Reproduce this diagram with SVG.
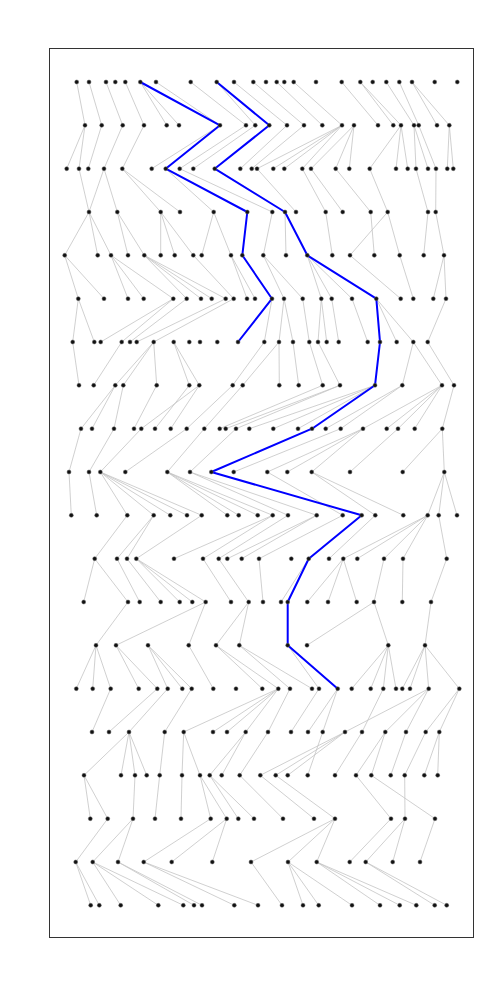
<svg xmlns="http://www.w3.org/2000/svg" width="500" height="1000" viewBox="0 0 500 1000">
<style>
.e line{stroke:#c4c4c4;stroke-width:0.8}
.p{fill:none;stroke:#0000ff;stroke-width:2;stroke-linejoin:round}
.n circle{fill:#111;stroke:#666;stroke-width:0.5}
</style>
<rect x="0" y="0" width="500" height="1000" fill="#fff"/>
<rect x="49.5" y="48.5" width="424" height="889" fill="#fff" stroke="#333" stroke-width="1"/>
<g id="connectors">
<g class="e">
<line x1="76.7" y1="82" x2="85" y2="125.3"/><line x1="89" y1="82" x2="101.7" y2="125.3"/><line x1="106" y1="82" x2="122.7" y2="125.3"/><line x1="125.3" y1="82" x2="144" y2="125.3"/><line x1="140.3" y1="82" x2="166.7" y2="125.3"/><line x1="140.3" y1="82" x2="179" y2="125.3"/><line x1="156" y1="82" x2="220" y2="125.3"/><line x1="190.7" y1="82" x2="246" y2="125.3"/><line x1="216.7" y1="82" x2="255.3" y2="125.3"/><line x1="234" y1="82" x2="287" y2="125.3"/><line x1="253.3" y1="82" x2="304" y2="125.3"/><line x1="276.7" y1="82" x2="322.3" y2="125.3"/><line x1="293.7" y1="82" x2="342" y2="125.3"/><line x1="341.7" y1="82" x2="378" y2="125.3"/><line x1="360.3" y1="82" x2="393.3" y2="125.3"/><line x1="360.3" y1="82" x2="401" y2="125.3"/><line x1="386.3" y1="82" x2="414" y2="125.3"/><line x1="399.3" y1="82" x2="418.7" y2="125.3"/><line x1="412" y1="82" x2="437" y2="125.3"/><line x1="412" y1="82" x2="449.3" y2="125.3"/>
<line x1="85" y1="125.3" x2="66.7" y2="168.7"/><line x1="85" y1="125.3" x2="79" y2="168.7"/><line x1="101.7" y1="125.3" x2="88.3" y2="168.7"/><line x1="122.7" y1="125.3" x2="104" y2="168.7"/><line x1="144" y1="125.3" x2="122.3" y2="168.7"/><line x1="220" y1="125.3" x2="151.7" y2="168.7"/><line x1="246" y1="125.3" x2="179.7" y2="168.7"/><line x1="255.3" y1="125.3" x2="193.3" y2="168.7"/><line x1="287" y1="125.3" x2="240.3" y2="168.7"/><line x1="304" y1="125.3" x2="251.7" y2="168.7"/><line x1="342" y1="125.3" x2="257" y2="168.7"/><line x1="342" y1="125.3" x2="273.3" y2="168.7"/><line x1="342" y1="125.3" x2="284.3" y2="168.7"/><line x1="342" y1="125.3" x2="302.3" y2="168.7"/><line x1="354" y1="125.3" x2="311" y2="168.7"/><line x1="354" y1="125.3" x2="335.7" y2="168.7"/><line x1="354" y1="125.3" x2="349.3" y2="168.7"/><line x1="401" y1="125.3" x2="369.7" y2="168.7"/><line x1="401" y1="125.3" x2="396" y2="168.7"/><line x1="401" y1="125.3" x2="407.7" y2="168.7"/><line x1="414" y1="125.3" x2="416" y2="168.7"/><line x1="414" y1="125.3" x2="428" y2="168.7"/><line x1="418.7" y1="125.3" x2="436" y2="168.7"/><line x1="449.3" y1="125.3" x2="447.3" y2="168.7"/><line x1="449.3" y1="125.3" x2="453.3" y2="168.7"/>
<line x1="79" y1="168.7" x2="89" y2="212"/><line x1="104" y1="168.7" x2="89" y2="212"/><line x1="104" y1="168.7" x2="117.3" y2="212"/><line x1="122.3" y1="168.7" x2="160.7" y2="212"/><line x1="122.3" y1="168.7" x2="180" y2="212"/><line x1="165.7" y1="168.7" x2="213.7" y2="212"/><line x1="179.7" y1="168.7" x2="272.3" y2="212"/><line x1="257" y1="168.7" x2="296" y2="212"/><line x1="302.3" y1="168.7" x2="325.7" y2="212"/><line x1="311" y1="168.7" x2="342.7" y2="212"/><line x1="335.7" y1="168.7" x2="370.7" y2="212"/><line x1="369.7" y1="168.7" x2="387.7" y2="212"/><line x1="416" y1="168.7" x2="428" y2="212"/><line x1="436" y1="168.7" x2="435.7" y2="212"/>
<line x1="89" y1="212" x2="64.7" y2="255.3"/><line x1="89" y1="212" x2="97.7" y2="255.3"/><line x1="89" y1="212" x2="111" y2="255.3"/><line x1="117.3" y1="212" x2="128" y2="255.3"/><line x1="117.3" y1="212" x2="144.3" y2="255.3"/><line x1="160.7" y1="212" x2="160.7" y2="255.3"/><line x1="160.7" y1="212" x2="174.7" y2="255.3"/><line x1="160.7" y1="212" x2="193.3" y2="255.3"/><line x1="213.7" y1="212" x2="201.7" y2="255.3"/><line x1="213.7" y1="212" x2="231" y2="255.3"/><line x1="272.3" y1="212" x2="263.3" y2="255.3"/><line x1="285" y1="212" x2="286" y2="255.3"/><line x1="325.7" y1="212" x2="332.3" y2="255.3"/><line x1="370.7" y1="212" x2="374.3" y2="255.3"/><line x1="387.7" y1="212" x2="350" y2="255.3"/><line x1="387.7" y1="212" x2="399.7" y2="255.3"/><line x1="428" y1="212" x2="423.7" y2="255.3"/><line x1="435.7" y1="212" x2="444" y2="255.3"/>
<line x1="64.7" y1="255.3" x2="78.3" y2="298.7"/><line x1="64.7" y1="255.3" x2="104" y2="298.7"/><line x1="111" y1="255.3" x2="128" y2="298.7"/><line x1="111" y1="255.3" x2="143.7" y2="298.7"/><line x1="111" y1="255.3" x2="173.3" y2="298.7"/><line x1="144.3" y1="255.3" x2="186.7" y2="298.7"/><line x1="144.3" y1="255.3" x2="201" y2="298.7"/><line x1="144.3" y1="255.3" x2="211.7" y2="298.7"/><line x1="144.3" y1="255.3" x2="225.7" y2="298.7"/><line x1="193.3" y1="255.3" x2="233.7" y2="298.7"/><line x1="231" y1="255.3" x2="247" y2="298.7"/><line x1="231" y1="255.3" x2="255" y2="298.7"/><line x1="263.3" y1="255.3" x2="284" y2="298.7"/><line x1="263.3" y1="255.3" x2="302.7" y2="298.7"/><line x1="307.3" y1="255.3" x2="321.3" y2="298.7"/><line x1="307.3" y1="255.3" x2="331.7" y2="298.7"/><line x1="307.3" y1="255.3" x2="352" y2="298.7"/><line x1="350" y1="255.3" x2="400.7" y2="298.7"/><line x1="399.7" y1="255.3" x2="413.3" y2="298.7"/><line x1="444" y1="255.3" x2="433.3" y2="298.7"/><line x1="444" y1="255.3" x2="446" y2="298.7"/>
<line x1="78.3" y1="298.7" x2="72.7" y2="342"/><line x1="78.3" y1="298.7" x2="94.3" y2="342"/><line x1="173.3" y1="298.7" x2="100.7" y2="342"/><line x1="173.3" y1="298.7" x2="121.7" y2="342"/><line x1="186.7" y1="298.7" x2="130" y2="342"/><line x1="225.7" y1="298.7" x2="136.7" y2="342"/><line x1="233.7" y1="298.7" x2="153.7" y2="342"/><line x1="272" y1="298.7" x2="264.3" y2="342"/><line x1="284" y1="298.7" x2="279" y2="342"/><line x1="284" y1="298.7" x2="293" y2="342"/><line x1="302.7" y1="298.7" x2="309.3" y2="342"/><line x1="321.3" y1="298.7" x2="318" y2="342"/><line x1="321.3" y1="298.7" x2="326.7" y2="342"/><line x1="331.7" y1="298.7" x2="338.7" y2="342"/><line x1="352" y1="298.7" x2="367.7" y2="342"/><line x1="376.3" y1="298.7" x2="396.7" y2="342"/><line x1="376.3" y1="298.7" x2="413.3" y2="342"/><line x1="446" y1="298.7" x2="427.7" y2="342"/>
<line x1="72.7" y1="342" x2="79" y2="385.3"/><line x1="121.7" y1="342" x2="93.7" y2="385.3"/><line x1="153.7" y1="342" x2="115.3" y2="385.3"/><line x1="153.7" y1="342" x2="123.3" y2="385.3"/><line x1="153.7" y1="342" x2="156.7" y2="385.3"/><line x1="173.7" y1="342" x2="189.3" y2="385.3"/><line x1="173.7" y1="342" x2="199.3" y2="385.3"/><line x1="264.3" y1="342" x2="232.7" y2="385.3"/><line x1="279" y1="342" x2="242.7" y2="385.3"/><line x1="279" y1="342" x2="279.3" y2="385.3"/><line x1="293" y1="342" x2="298.7" y2="385.3"/><line x1="309.3" y1="342" x2="322.7" y2="385.3"/><line x1="318" y1="342" x2="340" y2="385.3"/><line x1="413.3" y1="342" x2="402.3" y2="385.3"/><line x1="413.3" y1="342" x2="442" y2="385.3"/><line x1="427.7" y1="342" x2="454" y2="385.3"/>
<line x1="115.3" y1="385.3" x2="81" y2="428.7"/><line x1="115.3" y1="385.3" x2="92" y2="428.7"/><line x1="123.3" y1="385.3" x2="114" y2="428.7"/><line x1="156.7" y1="385.3" x2="134" y2="428.7"/><line x1="199.3" y1="385.3" x2="141.3" y2="428.7"/><line x1="189.3" y1="385.3" x2="155" y2="428.7"/><line x1="199.3" y1="385.3" x2="170.7" y2="428.7"/><line x1="232.7" y1="385.3" x2="186.7" y2="428.7"/><line x1="242.7" y1="385.3" x2="204.3" y2="428.7"/><line x1="322.7" y1="385.3" x2="219.7" y2="428.7"/><line x1="340" y1="385.3" x2="225.7" y2="428.7"/><line x1="340" y1="385.3" x2="236" y2="428.7"/><line x1="375" y1="385.3" x2="249.3" y2="428.7"/><line x1="375" y1="385.3" x2="273.3" y2="428.7"/><line x1="375" y1="385.3" x2="298" y2="428.7"/><line x1="402.3" y1="385.3" x2="325.7" y2="428.7"/><line x1="402.3" y1="385.3" x2="340.7" y2="428.7"/><line x1="442" y1="385.3" x2="363" y2="428.7"/><line x1="442" y1="385.3" x2="386.7" y2="428.7"/><line x1="442" y1="385.3" x2="398" y2="428.7"/><line x1="442" y1="385.3" x2="414.7" y2="428.7"/><line x1="454" y1="385.3" x2="442.3" y2="428.7"/>
<line x1="81" y1="428.7" x2="69" y2="472"/><line x1="114" y1="428.7" x2="89" y2="472"/><line x1="141.3" y1="428.7" x2="100.3" y2="472"/><line x1="186.7" y1="428.7" x2="125.3" y2="472"/><line x1="204.3" y1="428.7" x2="167.3" y2="472"/><line x1="236" y1="428.7" x2="190" y2="472"/><line x1="340.7" y1="428.7" x2="233.7" y2="472"/><line x1="363" y1="428.7" x2="267.3" y2="472"/><line x1="363" y1="428.7" x2="287.3" y2="472"/><line x1="363" y1="428.7" x2="311.7" y2="472"/><line x1="398" y1="428.7" x2="350" y2="472"/><line x1="442.3" y1="428.7" x2="402.7" y2="472"/><line x1="442.3" y1="428.7" x2="444.3" y2="472"/>
<line x1="69" y1="472" x2="71.3" y2="515.3"/><line x1="89" y1="472" x2="96.7" y2="515.3"/><line x1="100.3" y1="472" x2="127.3" y2="515.3"/><line x1="100.3" y1="472" x2="153.7" y2="515.3"/><line x1="100.3" y1="472" x2="170.3" y2="515.3"/><line x1="100.3" y1="472" x2="187" y2="515.3"/><line x1="100.3" y1="472" x2="201.7" y2="515.3"/><line x1="167.3" y1="472" x2="227.3" y2="515.3"/><line x1="167.3" y1="472" x2="238.7" y2="515.3"/><line x1="167.3" y1="472" x2="257.7" y2="515.3"/><line x1="167.3" y1="472" x2="272.7" y2="515.3"/><line x1="190" y1="472" x2="288" y2="515.3"/><line x1="190" y1="472" x2="316.7" y2="515.3"/><line x1="267.3" y1="472" x2="342.7" y2="515.3"/><line x1="311.7" y1="472" x2="375.3" y2="515.3"/><line x1="311.7" y1="472" x2="403.3" y2="515.3"/><line x1="444.3" y1="472" x2="427.7" y2="515.3"/><line x1="444.3" y1="472" x2="438.7" y2="515.3"/><line x1="444.3" y1="472" x2="457" y2="515.3"/>
<line x1="127.3" y1="515.3" x2="94.7" y2="558.7"/><line x1="153.7" y1="515.3" x2="117" y2="558.7"/><line x1="153.7" y1="515.3" x2="127" y2="558.7"/><line x1="201.7" y1="515.3" x2="136.3" y2="558.7"/><line x1="272.7" y1="515.3" x2="174" y2="558.7"/><line x1="272.7" y1="515.3" x2="203" y2="558.7"/><line x1="288" y1="515.3" x2="218.7" y2="558.7"/><line x1="316.7" y1="515.3" x2="227.3" y2="558.7"/><line x1="316.7" y1="515.3" x2="241.7" y2="558.7"/><line x1="342.7" y1="515.3" x2="259" y2="558.7"/><line x1="375.3" y1="515.3" x2="329" y2="558.7"/><line x1="427.7" y1="515.3" x2="343.3" y2="558.7"/><line x1="427.7" y1="515.3" x2="357.3" y2="558.7"/><line x1="427.7" y1="515.3" x2="384" y2="558.7"/><line x1="427.7" y1="515.3" x2="403" y2="558.7"/><line x1="438.7" y1="515.3" x2="446.7" y2="558.7"/>
<line x1="94.7" y1="558.7" x2="83.7" y2="602"/><line x1="94.7" y1="558.7" x2="128" y2="602"/><line x1="117" y1="558.7" x2="139.7" y2="602"/><line x1="127" y1="558.7" x2="160.7" y2="602"/><line x1="136.3" y1="558.7" x2="179.7" y2="602"/><line x1="136.3" y1="558.7" x2="192.3" y2="602"/><line x1="136.3" y1="558.7" x2="205.7" y2="602"/><line x1="203" y1="558.7" x2="231" y2="602"/><line x1="218.7" y1="558.7" x2="248.7" y2="602"/><line x1="259" y1="558.7" x2="263" y2="602"/><line x1="308.7" y1="558.7" x2="281" y2="602"/><line x1="343.3" y1="558.7" x2="307.3" y2="602"/><line x1="343.3" y1="558.7" x2="328" y2="602"/><line x1="343.3" y1="558.7" x2="356.7" y2="602"/><line x1="384" y1="558.7" x2="374" y2="602"/><line x1="403" y1="558.7" x2="402.3" y2="602"/><line x1="446.7" y1="558.7" x2="431" y2="602"/>
<line x1="128" y1="602" x2="96" y2="645.3"/><line x1="205.7" y1="602" x2="116" y2="645.3"/><line x1="205.7" y1="602" x2="188.7" y2="645.3"/><line x1="248.7" y1="602" x2="216" y2="645.3"/><line x1="248.7" y1="602" x2="239.3" y2="645.3"/><line x1="374" y1="602" x2="307" y2="645.3"/><line x1="374" y1="602" x2="388.3" y2="645.3"/><line x1="431" y1="602" x2="425" y2="645.3"/>
<line x1="96" y1="645.3" x2="76.3" y2="688.7"/><line x1="96" y1="645.3" x2="92.7" y2="688.7"/><line x1="96" y1="645.3" x2="110.7" y2="688.7"/><line x1="116" y1="645.3" x2="138.7" y2="688.7"/><line x1="116" y1="645.3" x2="157.3" y2="688.7"/><line x1="148" y1="645.3" x2="167.7" y2="688.7"/><line x1="148" y1="645.3" x2="182.3" y2="688.7"/><line x1="148" y1="645.3" x2="191.7" y2="688.7"/><line x1="188.7" y1="645.3" x2="213.3" y2="688.7"/><line x1="216" y1="645.3" x2="262.3" y2="688.7"/><line x1="216" y1="645.3" x2="278.3" y2="688.7"/><line x1="239.3" y1="645.3" x2="290" y2="688.7"/><line x1="239.3" y1="645.3" x2="312" y2="688.7"/><line x1="287.7" y1="645.3" x2="319" y2="688.7"/><line x1="388.3" y1="645.3" x2="351.7" y2="688.7"/><line x1="388.3" y1="645.3" x2="370.7" y2="688.7"/><line x1="388.3" y1="645.3" x2="383.3" y2="688.7"/><line x1="388.3" y1="645.3" x2="396" y2="688.7"/><line x1="425" y1="645.3" x2="402.3" y2="688.7"/><line x1="425" y1="645.3" x2="410" y2="688.7"/><line x1="425" y1="645.3" x2="428.7" y2="688.7"/><line x1="425" y1="645.3" x2="459.3" y2="688.7"/>
<line x1="110.7" y1="688.7" x2="92" y2="732"/><line x1="157.3" y1="688.7" x2="109" y2="732"/><line x1="167.7" y1="688.7" x2="129" y2="732"/><line x1="191.7" y1="688.7" x2="164.7" y2="732"/><line x1="278.3" y1="688.7" x2="183.7" y2="732"/><line x1="278.3" y1="688.7" x2="213" y2="732"/><line x1="278.3" y1="688.7" x2="227" y2="732"/><line x1="278.3" y1="688.7" x2="245.7" y2="732"/><line x1="290" y1="688.7" x2="268" y2="732"/><line x1="319" y1="688.7" x2="291" y2="732"/><line x1="337.7" y1="688.7" x2="308" y2="732"/><line x1="337.7" y1="688.7" x2="322.7" y2="732"/><line x1="428.7" y1="688.7" x2="345" y2="732"/><line x1="383.3" y1="688.7" x2="362" y2="732"/><line x1="428.7" y1="688.7" x2="385.3" y2="732"/><line x1="428.7" y1="688.7" x2="406" y2="732"/><line x1="459.3" y1="688.7" x2="425.7" y2="732"/><line x1="459.3" y1="688.7" x2="439.3" y2="732"/>
<line x1="129" y1="732" x2="84" y2="775.3"/><line x1="129" y1="732" x2="121" y2="775.3"/><line x1="129" y1="732" x2="135" y2="775.3"/><line x1="129" y1="732" x2="146.7" y2="775.3"/><line x1="164.7" y1="732" x2="159.7" y2="775.3"/><line x1="183.7" y1="732" x2="182" y2="775.3"/><line x1="183.7" y1="732" x2="200" y2="775.3"/><line x1="245.7" y1="732" x2="209.7" y2="775.3"/><line x1="245.7" y1="732" x2="221.7" y2="775.3"/><line x1="268" y1="732" x2="239.7" y2="775.3"/><line x1="345" y1="732" x2="260.3" y2="775.3"/><line x1="345" y1="732" x2="275.7" y2="775.3"/><line x1="345" y1="732" x2="287.7" y2="775.3"/><line x1="322.7" y1="732" x2="307.7" y2="775.3"/><line x1="362" y1="732" x2="335" y2="775.3"/><line x1="385.3" y1="732" x2="356" y2="775.3"/><line x1="385.3" y1="732" x2="371.3" y2="775.3"/><line x1="406" y1="732" x2="390.7" y2="775.3"/><line x1="425.7" y1="732" x2="404.7" y2="775.3"/><line x1="439.3" y1="732" x2="424.3" y2="775.3"/><line x1="439.3" y1="732" x2="437.7" y2="775.3"/>
<line x1="84" y1="775.3" x2="90.3" y2="818.7"/><line x1="84" y1="775.3" x2="107.7" y2="818.7"/><line x1="135" y1="775.3" x2="133" y2="818.7"/><line x1="159.7" y1="775.3" x2="155" y2="818.7"/><line x1="182" y1="775.3" x2="181" y2="818.7"/><line x1="200" y1="775.3" x2="210.7" y2="818.7"/><line x1="200" y1="775.3" x2="226.7" y2="818.7"/><line x1="209.7" y1="775.3" x2="238.3" y2="818.7"/><line x1="209.7" y1="775.3" x2="254" y2="818.7"/><line x1="239.7" y1="775.3" x2="283" y2="818.7"/><line x1="260.3" y1="775.3" x2="314" y2="818.7"/><line x1="275.7" y1="775.3" x2="335" y2="818.7"/><line x1="356" y1="775.3" x2="391" y2="818.7"/><line x1="371.3" y1="775.3" x2="435" y2="818.7"/><line x1="404.7" y1="775.3" x2="405" y2="818.7"/>
<line x1="107.7" y1="818.7" x2="75.7" y2="862"/><line x1="133" y1="818.7" x2="92.7" y2="862"/><line x1="133" y1="818.7" x2="118" y2="862"/><line x1="210.7" y1="818.7" x2="143.7" y2="862"/><line x1="226.7" y1="818.7" x2="171.7" y2="862"/><line x1="226.7" y1="818.7" x2="212.3" y2="862"/><line x1="335" y1="818.7" x2="251" y2="862"/><line x1="335" y1="818.7" x2="288" y2="862"/><line x1="335" y1="818.7" x2="316.7" y2="862"/><line x1="391" y1="818.7" x2="349.7" y2="862"/><line x1="405" y1="818.7" x2="365.7" y2="862"/><line x1="405" y1="818.7" x2="392.7" y2="862"/><line x1="435" y1="818.7" x2="420" y2="862"/>
<line x1="75.7" y1="862" x2="90.7" y2="905.3"/><line x1="75.7" y1="862" x2="99.3" y2="905.3"/><line x1="92.7" y1="862" x2="120.7" y2="905.3"/><line x1="92.7" y1="862" x2="158.3" y2="905.3"/><line x1="92.7" y1="862" x2="183.3" y2="905.3"/><line x1="118" y1="862" x2="194" y2="905.3"/><line x1="118" y1="862" x2="202" y2="905.3"/><line x1="143.7" y1="862" x2="234.3" y2="905.3"/><line x1="143.7" y1="862" x2="258" y2="905.3"/><line x1="251" y1="862" x2="282" y2="905.3"/><line x1="288" y1="862" x2="303" y2="905.3"/><line x1="288" y1="862" x2="318.7" y2="905.3"/><line x1="288" y1="862" x2="352" y2="905.3"/><line x1="316.7" y1="862" x2="380" y2="905.3"/><line x1="316.7" y1="862" x2="399.7" y2="905.3"/><line x1="316.7" y1="862" x2="416.3" y2="905.3"/><line x1="365.7" y1="862" x2="434.7" y2="905.3"/><line x1="365.7" y1="862" x2="446.7" y2="905.3"/>
</g>
<polyline id="pathA" class="p" points="140.3,82 220,125.3 165.7,168.7 247.3,212 242.3,255.3 272,298.7 238,342"/>
<polyline id="pathB" class="p" points="216.7,82 269.3,125.3 214.7,168.7 285,212 307.3,255.3 376.3,298.7 380,342 375,385.3 312,428.7 211.3,472 361.7,515.3 308.7,558.7 287.7,602 287.7,645.3 337.7,688.7"/>
</g>
<g class="n">
<g id="n1_1"><circle cx="76.7" cy="82" r="2"/></g><g id="n1_2"><circle cx="89" cy="82" r="2"/></g><g id="n1_3"><circle cx="106" cy="82" r="2"/></g><g id="n1_4"><circle cx="115.3" cy="82" r="2"/></g><g id="n1_5"><circle cx="125.3" cy="82" r="2"/></g><g id="n1_6"><circle cx="140.3" cy="82" r="2"/></g><g id="n1_7"><circle cx="156" cy="82" r="2"/></g><g id="n1_8"><circle cx="190.7" cy="82" r="2"/></g><g id="n1_9"><circle cx="216.7" cy="82" r="2"/></g><g id="n1_10"><circle cx="234" cy="82" r="2"/></g><g id="n1_11"><circle cx="253.3" cy="82" r="2"/></g><g id="n1_12"><circle cx="266" cy="82" r="2"/></g><g id="n1_13"><circle cx="276.7" cy="82" r="2"/></g><g id="n1_14"><circle cx="284.3" cy="82" r="2"/></g><g id="n1_15"><circle cx="293.7" cy="82" r="2"/></g><g id="n1_16"><circle cx="316" cy="82" r="2"/></g><g id="n1_17"><circle cx="341.7" cy="82" r="2"/></g><g id="n1_18"><circle cx="360.3" cy="82" r="2"/></g><g id="n1_19"><circle cx="372.7" cy="82" r="2"/></g><g id="n1_20"><circle cx="386.3" cy="82" r="2"/></g><g id="n1_21"><circle cx="399.3" cy="82" r="2"/></g><g id="n1_22"><circle cx="412" cy="82" r="2"/></g><g id="n1_23"><circle cx="434.7" cy="82" r="2"/></g><g id="n1_24"><circle cx="457.3" cy="82" r="2"/></g>
<g id="n2_1"><circle cx="85" cy="125.3" r="2"/></g><g id="n2_2"><circle cx="101.7" cy="125.3" r="2"/></g><g id="n2_3"><circle cx="122.7" cy="125.3" r="2"/></g><g id="n2_4"><circle cx="144" cy="125.3" r="2"/></g><g id="n2_5"><circle cx="166.7" cy="125.3" r="2"/></g><g id="n2_6"><circle cx="179" cy="125.3" r="2"/></g><g id="n2_7"><circle cx="220" cy="125.3" r="2"/></g><g id="n2_8"><circle cx="246" cy="125.3" r="2"/></g><g id="n2_9"><circle cx="255.3" cy="125.3" r="2"/></g><g id="n2_10"><circle cx="269.3" cy="125.3" r="2"/></g><g id="n2_11"><circle cx="287" cy="125.3" r="2"/></g><g id="n2_12"><circle cx="304" cy="125.3" r="2"/></g><g id="n2_13"><circle cx="322.3" cy="125.3" r="2"/></g><g id="n2_14"><circle cx="342" cy="125.3" r="2"/></g><g id="n2_15"><circle cx="354" cy="125.3" r="2"/></g><g id="n2_16"><circle cx="378" cy="125.3" r="2"/></g><g id="n2_17"><circle cx="393.3" cy="125.3" r="2"/></g><g id="n2_18"><circle cx="401" cy="125.3" r="2"/></g><g id="n2_19"><circle cx="414" cy="125.3" r="2"/></g><g id="n2_20"><circle cx="418.7" cy="125.3" r="2"/></g><g id="n2_21"><circle cx="437" cy="125.3" r="2"/></g><g id="n2_22"><circle cx="449.3" cy="125.3" r="2"/></g>
<g id="n3_1"><circle cx="66.7" cy="168.7" r="2"/></g><g id="n3_2"><circle cx="79" cy="168.7" r="2"/></g><g id="n3_3"><circle cx="88.3" cy="168.7" r="2"/></g><g id="n3_4"><circle cx="104" cy="168.7" r="2"/></g><g id="n3_5"><circle cx="122.3" cy="168.7" r="2"/></g><g id="n3_6"><circle cx="151.7" cy="168.7" r="2"/></g><g id="n3_7"><circle cx="165.7" cy="168.7" r="2"/></g><g id="n3_8"><circle cx="179.7" cy="168.7" r="2"/></g><g id="n3_9"><circle cx="193.3" cy="168.7" r="2"/></g><g id="n3_10"><circle cx="214.7" cy="168.7" r="2"/></g><g id="n3_11"><circle cx="240.3" cy="168.7" r="2"/></g><g id="n3_12"><circle cx="251.7" cy="168.7" r="2"/></g><g id="n3_13"><circle cx="257" cy="168.7" r="2"/></g><g id="n3_14"><circle cx="273.3" cy="168.7" r="2"/></g><g id="n3_15"><circle cx="284.3" cy="168.7" r="2"/></g><g id="n3_16"><circle cx="302.3" cy="168.7" r="2"/></g><g id="n3_17"><circle cx="311" cy="168.7" r="2"/></g><g id="n3_18"><circle cx="335.7" cy="168.7" r="2"/></g><g id="n3_19"><circle cx="349.3" cy="168.7" r="2"/></g><g id="n3_20"><circle cx="369.7" cy="168.7" r="2"/></g><g id="n3_21"><circle cx="396" cy="168.7" r="2"/></g><g id="n3_22"><circle cx="407.7" cy="168.7" r="2"/></g><g id="n3_23"><circle cx="416" cy="168.7" r="2"/></g><g id="n3_24"><circle cx="428" cy="168.7" r="2"/></g><g id="n3_25"><circle cx="436" cy="168.7" r="2"/></g><g id="n3_26"><circle cx="447.3" cy="168.7" r="2"/></g><g id="n3_27"><circle cx="453.3" cy="168.7" r="2"/></g>
<g id="n4_1"><circle cx="89" cy="212" r="2"/></g><g id="n4_2"><circle cx="117.3" cy="212" r="2"/></g><g id="n4_3"><circle cx="160.7" cy="212" r="2"/></g><g id="n4_4"><circle cx="180" cy="212" r="2"/></g><g id="n4_5"><circle cx="213.7" cy="212" r="2"/></g><g id="n4_6"><circle cx="247.3" cy="212" r="2"/></g><g id="n4_7"><circle cx="272.3" cy="212" r="2"/></g><g id="n4_8"><circle cx="285" cy="212" r="2"/></g><g id="n4_9"><circle cx="296" cy="212" r="2"/></g><g id="n4_10"><circle cx="325.7" cy="212" r="2"/></g><g id="n4_11"><circle cx="342.7" cy="212" r="2"/></g><g id="n4_12"><circle cx="370.7" cy="212" r="2"/></g><g id="n4_13"><circle cx="387.7" cy="212" r="2"/></g><g id="n4_14"><circle cx="428" cy="212" r="2"/></g><g id="n4_15"><circle cx="435.7" cy="212" r="2"/></g>
<g id="n5_1"><circle cx="64.7" cy="255.3" r="2"/></g><g id="n5_2"><circle cx="97.7" cy="255.3" r="2"/></g><g id="n5_3"><circle cx="111" cy="255.3" r="2"/></g><g id="n5_4"><circle cx="128" cy="255.3" r="2"/></g><g id="n5_5"><circle cx="144.3" cy="255.3" r="2"/></g><g id="n5_6"><circle cx="160.7" cy="255.3" r="2"/></g><g id="n5_7"><circle cx="174.7" cy="255.3" r="2"/></g><g id="n5_8"><circle cx="193.3" cy="255.3" r="2"/></g><g id="n5_9"><circle cx="201.7" cy="255.3" r="2"/></g><g id="n5_10"><circle cx="231" cy="255.3" r="2"/></g><g id="n5_11"><circle cx="242.3" cy="255.3" r="2"/></g><g id="n5_12"><circle cx="263.3" cy="255.3" r="2"/></g><g id="n5_13"><circle cx="286" cy="255.3" r="2"/></g><g id="n5_14"><circle cx="307.3" cy="255.3" r="2"/></g><g id="n5_15"><circle cx="332.3" cy="255.3" r="2"/></g><g id="n5_16"><circle cx="350" cy="255.3" r="2"/></g><g id="n5_17"><circle cx="374.3" cy="255.3" r="2"/></g><g id="n5_18"><circle cx="399.7" cy="255.3" r="2"/></g><g id="n5_19"><circle cx="423.7" cy="255.3" r="2"/></g><g id="n5_20"><circle cx="444" cy="255.3" r="2"/></g>
<g id="n6_1"><circle cx="78.3" cy="298.7" r="2"/></g><g id="n6_2"><circle cx="104" cy="298.7" r="2"/></g><g id="n6_3"><circle cx="128" cy="298.7" r="2"/></g><g id="n6_4"><circle cx="143.7" cy="298.7" r="2"/></g><g id="n6_5"><circle cx="173.3" cy="298.7" r="2"/></g><g id="n6_6"><circle cx="186.7" cy="298.7" r="2"/></g><g id="n6_7"><circle cx="201" cy="298.7" r="2"/></g><g id="n6_8"><circle cx="211.7" cy="298.7" r="2"/></g><g id="n6_9"><circle cx="225.7" cy="298.7" r="2"/></g><g id="n6_10"><circle cx="233.7" cy="298.7" r="2"/></g><g id="n6_11"><circle cx="247" cy="298.7" r="2"/></g><g id="n6_12"><circle cx="255" cy="298.7" r="2"/></g><g id="n6_13"><circle cx="272" cy="298.7" r="2"/></g><g id="n6_14"><circle cx="284" cy="298.7" r="2"/></g><g id="n6_15"><circle cx="302.7" cy="298.7" r="2"/></g><g id="n6_16"><circle cx="321.3" cy="298.7" r="2"/></g><g id="n6_17"><circle cx="331.7" cy="298.7" r="2"/></g><g id="n6_18"><circle cx="352" cy="298.7" r="2"/></g><g id="n6_19"><circle cx="376.3" cy="298.7" r="2"/></g><g id="n6_20"><circle cx="400.7" cy="298.7" r="2"/></g><g id="n6_21"><circle cx="413.3" cy="298.7" r="2"/></g><g id="n6_22"><circle cx="433.3" cy="298.7" r="2"/></g><g id="n6_23"><circle cx="446" cy="298.7" r="2"/></g>
<g id="n7_1"><circle cx="72.7" cy="342" r="2"/></g><g id="n7_2"><circle cx="94.3" cy="342" r="2"/></g><g id="n7_3"><circle cx="100.7" cy="342" r="2"/></g><g id="n7_4"><circle cx="121.7" cy="342" r="2"/></g><g id="n7_5"><circle cx="130" cy="342" r="2"/></g><g id="n7_6"><circle cx="136.7" cy="342" r="2"/></g><g id="n7_7"><circle cx="153.7" cy="342" r="2"/></g><g id="n7_8"><circle cx="173.7" cy="342" r="2"/></g><g id="n7_9"><circle cx="189.3" cy="342" r="2"/></g><g id="n7_10"><circle cx="200" cy="342" r="2"/></g><g id="n7_11"><circle cx="217.3" cy="342" r="2"/></g><g id="n7_12"><circle cx="238" cy="342" r="2"/></g><g id="n7_13"><circle cx="264.3" cy="342" r="2"/></g><g id="n7_14"><circle cx="279" cy="342" r="2"/></g><g id="n7_15"><circle cx="293" cy="342" r="2"/></g><g id="n7_16"><circle cx="309.3" cy="342" r="2"/></g><g id="n7_17"><circle cx="318" cy="342" r="2"/></g><g id="n7_18"><circle cx="326.7" cy="342" r="2"/></g><g id="n7_19"><circle cx="338.7" cy="342" r="2"/></g><g id="n7_20"><circle cx="367.7" cy="342" r="2"/></g><g id="n7_21"><circle cx="380" cy="342" r="2"/></g><g id="n7_22"><circle cx="396.7" cy="342" r="2"/></g><g id="n7_23"><circle cx="413.3" cy="342" r="2"/></g><g id="n7_24"><circle cx="427.7" cy="342" r="2"/></g>
<g id="n8_1"><circle cx="79" cy="385.3" r="2"/></g><g id="n8_2"><circle cx="93.7" cy="385.3" r="2"/></g><g id="n8_3"><circle cx="115.3" cy="385.3" r="2"/></g><g id="n8_4"><circle cx="123.3" cy="385.3" r="2"/></g><g id="n8_5"><circle cx="156.7" cy="385.3" r="2"/></g><g id="n8_6"><circle cx="189.3" cy="385.3" r="2"/></g><g id="n8_7"><circle cx="199.3" cy="385.3" r="2"/></g><g id="n8_8"><circle cx="232.7" cy="385.3" r="2"/></g><g id="n8_9"><circle cx="242.7" cy="385.3" r="2"/></g><g id="n8_10"><circle cx="279.3" cy="385.3" r="2"/></g><g id="n8_11"><circle cx="298.7" cy="385.3" r="2"/></g><g id="n8_12"><circle cx="322.7" cy="385.3" r="2"/></g><g id="n8_13"><circle cx="340" cy="385.3" r="2"/></g><g id="n8_14"><circle cx="375" cy="385.3" r="2"/></g><g id="n8_15"><circle cx="402.3" cy="385.3" r="2"/></g><g id="n8_16"><circle cx="442" cy="385.3" r="2"/></g><g id="n8_17"><circle cx="454" cy="385.3" r="2"/></g>
<g id="n9_1"><circle cx="81" cy="428.7" r="2"/></g><g id="n9_2"><circle cx="92" cy="428.7" r="2"/></g><g id="n9_3"><circle cx="114" cy="428.7" r="2"/></g><g id="n9_4"><circle cx="134" cy="428.7" r="2"/></g><g id="n9_5"><circle cx="141.3" cy="428.7" r="2"/></g><g id="n9_6"><circle cx="155" cy="428.7" r="2"/></g><g id="n9_7"><circle cx="170.7" cy="428.7" r="2"/></g><g id="n9_8"><circle cx="186.7" cy="428.7" r="2"/></g><g id="n9_9"><circle cx="204.3" cy="428.7" r="2"/></g><g id="n9_10"><circle cx="219.7" cy="428.7" r="2"/></g><g id="n9_11"><circle cx="225.7" cy="428.7" r="2"/></g><g id="n9_12"><circle cx="236" cy="428.7" r="2"/></g><g id="n9_13"><circle cx="249.3" cy="428.7" r="2"/></g><g id="n9_14"><circle cx="273.3" cy="428.7" r="2"/></g><g id="n9_15"><circle cx="298" cy="428.7" r="2"/></g><g id="n9_16"><circle cx="312" cy="428.7" r="2"/></g><g id="n9_17"><circle cx="325.7" cy="428.7" r="2"/></g><g id="n9_18"><circle cx="340.7" cy="428.7" r="2"/></g><g id="n9_19"><circle cx="363" cy="428.7" r="2"/></g><g id="n9_20"><circle cx="386.7" cy="428.7" r="2"/></g><g id="n9_21"><circle cx="398" cy="428.7" r="2"/></g><g id="n9_22"><circle cx="414.7" cy="428.7" r="2"/></g><g id="n9_23"><circle cx="442.3" cy="428.7" r="2"/></g>
<g id="n10_1"><circle cx="69" cy="472" r="2"/></g><g id="n10_2"><circle cx="89" cy="472" r="2"/></g><g id="n10_3"><circle cx="100.3" cy="472" r="2"/></g><g id="n10_4"><circle cx="125.3" cy="472" r="2"/></g><g id="n10_5"><circle cx="167.3" cy="472" r="2"/></g><g id="n10_6"><circle cx="190" cy="472" r="2"/></g><g id="n10_7"><circle cx="211.3" cy="472" r="2"/></g><g id="n10_8"><circle cx="233.7" cy="472" r="2"/></g><g id="n10_9"><circle cx="267.3" cy="472" r="2"/></g><g id="n10_10"><circle cx="287.3" cy="472" r="2"/></g><g id="n10_11"><circle cx="311.7" cy="472" r="2"/></g><g id="n10_12"><circle cx="350" cy="472" r="2"/></g><g id="n10_13"><circle cx="402.7" cy="472" r="2"/></g><g id="n10_14"><circle cx="444.3" cy="472" r="2"/></g>
<g id="n11_1"><circle cx="71.3" cy="515.3" r="2"/></g><g id="n11_2"><circle cx="96.7" cy="515.3" r="2"/></g><g id="n11_3"><circle cx="127.3" cy="515.3" r="2"/></g><g id="n11_4"><circle cx="153.7" cy="515.3" r="2"/></g><g id="n11_5"><circle cx="170.3" cy="515.3" r="2"/></g><g id="n11_6"><circle cx="187" cy="515.3" r="2"/></g><g id="n11_7"><circle cx="201.7" cy="515.3" r="2"/></g><g id="n11_8"><circle cx="227.3" cy="515.3" r="2"/></g><g id="n11_9"><circle cx="238.7" cy="515.3" r="2"/></g><g id="n11_10"><circle cx="257.7" cy="515.3" r="2"/></g><g id="n11_11"><circle cx="272.7" cy="515.3" r="2"/></g><g id="n11_12"><circle cx="288" cy="515.3" r="2"/></g><g id="n11_13"><circle cx="316.7" cy="515.3" r="2"/></g><g id="n11_14"><circle cx="342.7" cy="515.3" r="2"/></g><g id="n11_15"><circle cx="361.7" cy="515.3" r="2"/></g><g id="n11_16"><circle cx="375.3" cy="515.3" r="2"/></g><g id="n11_17"><circle cx="403.3" cy="515.3" r="2"/></g><g id="n11_18"><circle cx="427.7" cy="515.3" r="2"/></g><g id="n11_19"><circle cx="438.7" cy="515.3" r="2"/></g><g id="n11_20"><circle cx="457" cy="515.3" r="2"/></g>
<g id="n12_1"><circle cx="94.7" cy="558.7" r="2"/></g><g id="n12_2"><circle cx="117" cy="558.7" r="2"/></g><g id="n12_3"><circle cx="127" cy="558.7" r="2"/></g><g id="n12_4"><circle cx="136.3" cy="558.7" r="2"/></g><g id="n12_5"><circle cx="174" cy="558.7" r="2"/></g><g id="n12_6"><circle cx="203" cy="558.7" r="2"/></g><g id="n12_7"><circle cx="218.7" cy="558.7" r="2"/></g><g id="n12_8"><circle cx="227.3" cy="558.7" r="2"/></g><g id="n12_9"><circle cx="241.7" cy="558.7" r="2"/></g><g id="n12_10"><circle cx="259" cy="558.7" r="2"/></g><g id="n12_11"><circle cx="291.3" cy="558.7" r="2"/></g><g id="n12_12"><circle cx="308.7" cy="558.7" r="2"/></g><g id="n12_13"><circle cx="329" cy="558.7" r="2"/></g><g id="n12_14"><circle cx="343.3" cy="558.7" r="2"/></g><g id="n12_15"><circle cx="357.3" cy="558.7" r="2"/></g><g id="n12_16"><circle cx="384" cy="558.7" r="2"/></g><g id="n12_17"><circle cx="403" cy="558.7" r="2"/></g><g id="n12_18"><circle cx="446.7" cy="558.7" r="2"/></g>
<g id="n13_1"><circle cx="83.7" cy="602" r="2"/></g><g id="n13_2"><circle cx="128" cy="602" r="2"/></g><g id="n13_3"><circle cx="139.7" cy="602" r="2"/></g><g id="n13_4"><circle cx="160.7" cy="602" r="2"/></g><g id="n13_5"><circle cx="179.7" cy="602" r="2"/></g><g id="n13_6"><circle cx="192.3" cy="602" r="2"/></g><g id="n13_7"><circle cx="205.7" cy="602" r="2"/></g><g id="n13_8"><circle cx="231" cy="602" r="2"/></g><g id="n13_9"><circle cx="248.7" cy="602" r="2"/></g><g id="n13_10"><circle cx="263" cy="602" r="2"/></g><g id="n13_11"><circle cx="281" cy="602" r="2"/></g><g id="n13_12"><circle cx="287.7" cy="602" r="2"/></g><g id="n13_13"><circle cx="307.3" cy="602" r="2"/></g><g id="n13_14"><circle cx="328" cy="602" r="2"/></g><g id="n13_15"><circle cx="356.7" cy="602" r="2"/></g><g id="n13_16"><circle cx="374" cy="602" r="2"/></g><g id="n13_17"><circle cx="402.3" cy="602" r="2"/></g><g id="n13_18"><circle cx="431" cy="602" r="2"/></g>
<g id="n14_1"><circle cx="96" cy="645.3" r="2"/></g><g id="n14_2"><circle cx="116" cy="645.3" r="2"/></g><g id="n14_3"><circle cx="148" cy="645.3" r="2"/></g><g id="n14_4"><circle cx="188.7" cy="645.3" r="2"/></g><g id="n14_5"><circle cx="216" cy="645.3" r="2"/></g><g id="n14_6"><circle cx="239.3" cy="645.3" r="2"/></g><g id="n14_7"><circle cx="287.7" cy="645.3" r="2"/></g><g id="n14_8"><circle cx="307" cy="645.3" r="2"/></g><g id="n14_9"><circle cx="388.3" cy="645.3" r="2"/></g><g id="n14_10"><circle cx="425" cy="645.3" r="2"/></g>
<g id="n15_1"><circle cx="76.3" cy="688.7" r="2"/></g><g id="n15_2"><circle cx="92.7" cy="688.7" r="2"/></g><g id="n15_3"><circle cx="110.7" cy="688.7" r="2"/></g><g id="n15_4"><circle cx="138.7" cy="688.7" r="2"/></g><g id="n15_5"><circle cx="157.3" cy="688.7" r="2"/></g><g id="n15_6"><circle cx="167.7" cy="688.7" r="2"/></g><g id="n15_7"><circle cx="182.3" cy="688.7" r="2"/></g><g id="n15_8"><circle cx="191.7" cy="688.7" r="2"/></g><g id="n15_9"><circle cx="213.3" cy="688.7" r="2"/></g><g id="n15_10"><circle cx="236" cy="688.7" r="2"/></g><g id="n15_11"><circle cx="262.3" cy="688.7" r="2"/></g><g id="n15_12"><circle cx="278.3" cy="688.7" r="2"/></g><g id="n15_13"><circle cx="290" cy="688.7" r="2"/></g><g id="n15_14"><circle cx="312" cy="688.7" r="2"/></g><g id="n15_15"><circle cx="319" cy="688.7" r="2"/></g><g id="n15_16"><circle cx="337.7" cy="688.7" r="2"/></g><g id="n15_17"><circle cx="351.7" cy="688.7" r="2"/></g><g id="n15_18"><circle cx="370.7" cy="688.7" r="2"/></g><g id="n15_19"><circle cx="383.3" cy="688.7" r="2"/></g><g id="n15_20"><circle cx="396" cy="688.7" r="2"/></g><g id="n15_21"><circle cx="402.3" cy="688.7" r="2"/></g><g id="n15_22"><circle cx="410" cy="688.7" r="2"/></g><g id="n15_23"><circle cx="428.7" cy="688.7" r="2"/></g><g id="n15_24"><circle cx="459.3" cy="688.7" r="2"/></g>
<g id="n16_1"><circle cx="92" cy="732" r="2"/></g><g id="n16_2"><circle cx="109" cy="732" r="2"/></g><g id="n16_3"><circle cx="129" cy="732" r="2"/></g><g id="n16_4"><circle cx="164.7" cy="732" r="2"/></g><g id="n16_5"><circle cx="183.7" cy="732" r="2"/></g><g id="n16_6"><circle cx="213" cy="732" r="2"/></g><g id="n16_7"><circle cx="227" cy="732" r="2"/></g><g id="n16_8"><circle cx="245.7" cy="732" r="2"/></g><g id="n16_9"><circle cx="268" cy="732" r="2"/></g><g id="n16_10"><circle cx="291" cy="732" r="2"/></g><g id="n16_11"><circle cx="308" cy="732" r="2"/></g><g id="n16_12"><circle cx="322.7" cy="732" r="2"/></g><g id="n16_13"><circle cx="345" cy="732" r="2"/></g><g id="n16_14"><circle cx="362" cy="732" r="2"/></g><g id="n16_15"><circle cx="385.3" cy="732" r="2"/></g><g id="n16_16"><circle cx="406" cy="732" r="2"/></g><g id="n16_17"><circle cx="425.7" cy="732" r="2"/></g><g id="n16_18"><circle cx="439.3" cy="732" r="2"/></g>
<g id="n17_1"><circle cx="84" cy="775.3" r="2"/></g><g id="n17_2"><circle cx="121" cy="775.3" r="2"/></g><g id="n17_3"><circle cx="135" cy="775.3" r="2"/></g><g id="n17_4"><circle cx="146.7" cy="775.3" r="2"/></g><g id="n17_5"><circle cx="159.7" cy="775.3" r="2"/></g><g id="n17_6"><circle cx="182" cy="775.3" r="2"/></g><g id="n17_7"><circle cx="200" cy="775.3" r="2"/></g><g id="n17_8"><circle cx="209.7" cy="775.3" r="2"/></g><g id="n17_9"><circle cx="221.7" cy="775.3" r="2"/></g><g id="n17_10"><circle cx="239.7" cy="775.3" r="2"/></g><g id="n17_11"><circle cx="260.3" cy="775.3" r="2"/></g><g id="n17_12"><circle cx="275.7" cy="775.3" r="2"/></g><g id="n17_13"><circle cx="287.7" cy="775.3" r="2"/></g><g id="n17_14"><circle cx="307.7" cy="775.3" r="2"/></g><g id="n17_15"><circle cx="335" cy="775.3" r="2"/></g><g id="n17_16"><circle cx="356" cy="775.3" r="2"/></g><g id="n17_17"><circle cx="371.3" cy="775.3" r="2"/></g><g id="n17_18"><circle cx="390.7" cy="775.3" r="2"/></g><g id="n17_19"><circle cx="404.7" cy="775.3" r="2"/></g><g id="n17_20"><circle cx="424.3" cy="775.3" r="2"/></g><g id="n17_21"><circle cx="437.7" cy="775.3" r="2"/></g>
<g id="n18_1"><circle cx="90.3" cy="818.7" r="2"/></g><g id="n18_2"><circle cx="107.7" cy="818.7" r="2"/></g><g id="n18_3"><circle cx="133" cy="818.7" r="2"/></g><g id="n18_4"><circle cx="155" cy="818.7" r="2"/></g><g id="n18_5"><circle cx="181" cy="818.7" r="2"/></g><g id="n18_6"><circle cx="210.7" cy="818.7" r="2"/></g><g id="n18_7"><circle cx="226.7" cy="818.7" r="2"/></g><g id="n18_8"><circle cx="238.3" cy="818.7" r="2"/></g><g id="n18_9"><circle cx="254" cy="818.7" r="2"/></g><g id="n18_10"><circle cx="283" cy="818.7" r="2"/></g><g id="n18_11"><circle cx="314" cy="818.7" r="2"/></g><g id="n18_12"><circle cx="335" cy="818.7" r="2"/></g><g id="n18_13"><circle cx="391" cy="818.7" r="2"/></g><g id="n18_14"><circle cx="405" cy="818.7" r="2"/></g><g id="n18_15"><circle cx="435" cy="818.7" r="2"/></g>
<g id="n19_1"><circle cx="75.7" cy="862" r="2"/></g><g id="n19_2"><circle cx="92.7" cy="862" r="2"/></g><g id="n19_3"><circle cx="118" cy="862" r="2"/></g><g id="n19_4"><circle cx="143.7" cy="862" r="2"/></g><g id="n19_5"><circle cx="171.7" cy="862" r="2"/></g><g id="n19_6"><circle cx="212.3" cy="862" r="2"/></g><g id="n19_7"><circle cx="251" cy="862" r="2"/></g><g id="n19_8"><circle cx="288" cy="862" r="2"/></g><g id="n19_9"><circle cx="316.7" cy="862" r="2"/></g><g id="n19_10"><circle cx="349.7" cy="862" r="2"/></g><g id="n19_11"><circle cx="365.7" cy="862" r="2"/></g><g id="n19_12"><circle cx="392.7" cy="862" r="2"/></g><g id="n19_13"><circle cx="420" cy="862" r="2"/></g>
<g id="n20_1"><circle cx="90.7" cy="905.3" r="2"/></g><g id="n20_2"><circle cx="99.3" cy="905.3" r="2"/></g><g id="n20_3"><circle cx="120.7" cy="905.3" r="2"/></g><g id="n20_4"><circle cx="158.3" cy="905.3" r="2"/></g><g id="n20_5"><circle cx="183.3" cy="905.3" r="2"/></g><g id="n20_6"><circle cx="194" cy="905.3" r="2"/></g><g id="n20_7"><circle cx="202" cy="905.3" r="2"/></g><g id="n20_8"><circle cx="234.3" cy="905.3" r="2"/></g><g id="n20_9"><circle cx="258" cy="905.3" r="2"/></g><g id="n20_10"><circle cx="282" cy="905.3" r="2"/></g><g id="n20_11"><circle cx="303" cy="905.3" r="2"/></g><g id="n20_12"><circle cx="318.7" cy="905.3" r="2"/></g><g id="n20_13"><circle cx="352" cy="905.3" r="2"/></g><g id="n20_14"><circle cx="380" cy="905.3" r="2"/></g><g id="n20_15"><circle cx="399.7" cy="905.3" r="2"/></g><g id="n20_16"><circle cx="416.3" cy="905.3" r="2"/></g><g id="n20_17"><circle cx="434.7" cy="905.3" r="2"/></g><g id="n20_18"><circle cx="446.7" cy="905.3" r="2"/></g>
</g>
</svg>
